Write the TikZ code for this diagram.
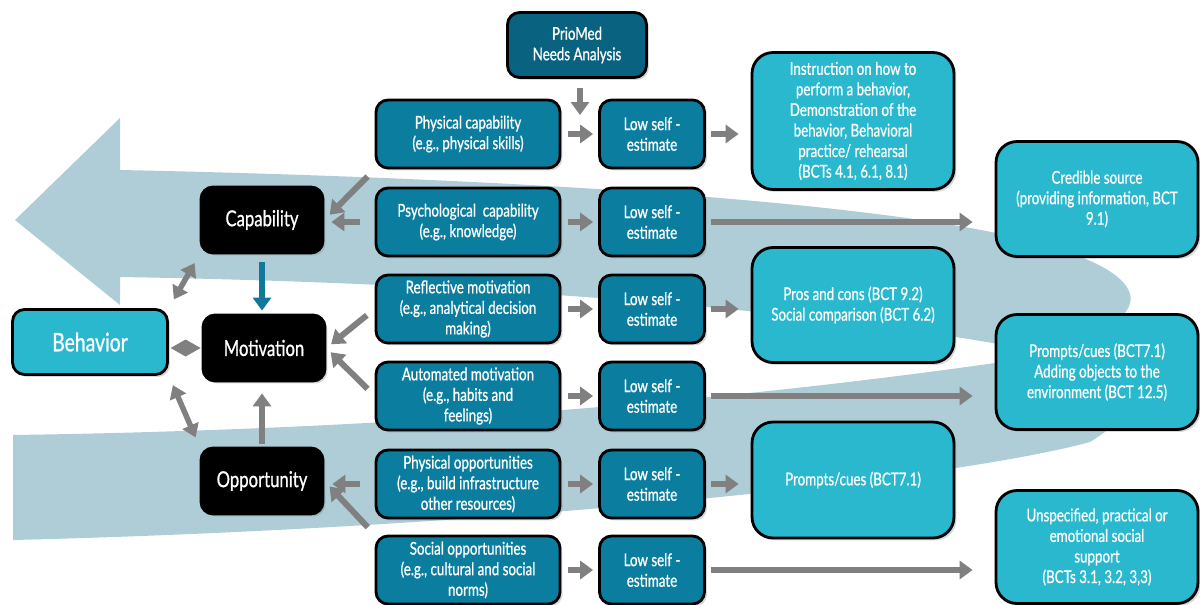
\documentclass[tikz,border=0pt]{standalone}
\usepackage{fontspec}
\setmainfont{Lato}[FakeStretch=0.76, FakeBold=0.8]
\usepackage{tikz}
\usetikzlibrary{positioning,
                arrows.meta,                % arrow tips
                shadows}                    % drop shadows

\definecolor{bandblue}{RGB}{175,205,214}
\definecolor{darkteal}{RGB}{11,126,159}
\definecolor{prioteal}{RGB}{8,98,128}
\definecolor{lightteal}{RGB}{41,184,206}
\definecolor{arrowgray}{RGB}{128,128,128}
\definecolor{capteal}{RGB}{17,120,154}

\begin{document}
\begin{tikzpicture}[x=0.02cm, y=-0.02cm,
    box/.style={draw=black, line width=1.6pt, rounded corners=0.24cm, text=white, align=center,
                inner sep=2pt, font=\fontsize{10}{11.7}\selectfont,
                drop shadow={shadow xshift=0.05cm, shadow yshift=-0.05cm, opacity=0.3}},
    cbox/.style={box, fill=black, minimum width=2.44cm, minimum height=1.32cm, font=\fontsize{12.5}{14}\selectfont},
    srcbox/.style={box, fill=darkteal, minimum width=3.68cm, minimum height=1.36cm},
    lowbox/.style={box, fill=darkteal, minimum width=2.1cm, minimum height=1.36cm},
    bctbox/.style={box, fill=lightteal, rounded corners=0.42cm, minimum width=4.04cm},
    grayarrow/.style={draw=arrowgray, line width=0.12cm, -{Triangle[length=0.26cm, width=0.36cm]}},
    twoway/.style={draw=arrowgray, line width=0.11cm, {Triangle[length=0.26cm, width=0.34cm]}-{Triangle[length=0.26cm, width=0.34cm]},
                   shorten <=0.2cm, shorten >=0.2cm}]
  \useasboundingbox (0,0) rectangle (1200,605);

  % background bands
  \fill[bandblue] (15,220) -- (120,118) -- (120,170)
      .. controls (600,180) and (950,210) .. (1060,250)
      .. controls (1160,280) and (1160,330) .. (1020,348)
      .. controls (900,325) and (600,285) .. (120,277)
      -- (120,305) -- cycle;
  \fill[bandblue] (13,435)
      .. controls (500,428) and (850,385) .. (1050,355)
      .. controls (1150,340) and (1160,400) .. (1090,442)
      .. controls (950,480) and (500,528) .. (13,540) -- cycle;

  % COM-B
  \node[box, fill=lightteal, minimum width=3.1cm, minimum height=1.3cm,
        font=\fontsize{14.5}{16}\selectfont] (beh) at (90,342) {Behavior};
  \node[cbox] (cap) at (262,220) {Capability};
  \node[cbox] (mot) at (264,348) {Motivation};
  \node[cbox] (opp) at (262,481) {Opportunity};

  \node[box, fill=prioteal, minimum width=2.78cm, minimum height=1.3cm] (prio) at (577,45) {PrioMed\\Needs Analysis};

  % sources
  \node[srcbox] (physcap) at (468,134) {Physical capability\\(e.g., physical skills)};
  \node[srcbox] (psychcap) at (468,222) {Psychological\ \ capability\\(e.g., knowledge)};
  \node[srcbox] (reflmot) at (468,309) {Reflective motivation\\(e.g., analytical decision\\making)};
  \node[srcbox] (automot) at (468,396) {Automated motivation\\(e.g., habits and\\feelings)};
  \node[srcbox] (physopp) at (468,484) {Physical opportunities\\(e.g., build infrastructure\\other resources)};
  \node[srcbox] (socopp) at (468,570) {Social opportunities\\(e.g., cultural and social\\norms)};

  \foreach \n/\y in {1/134,2/222,3/309,4/396,5/484,6/570}
    \node[lowbox] (low\n) at (652,\y) {Low self -\\estimate};

  % behaviour change techniques
  \node[bctbox, minimum height=2.74cm] (instr) at (853,121)
       {Instruction on how to\\perform a behavior,\\Demonstration of the\\behavior, Behavioral\\practice/ rehearsal\\(BCTs 4.1, 6.1, 8.1)};
  \node[bctbox, minimum height=2.3cm] (pros) at (853,305) {Pros and cons (BCT 9.2)\\Social comparison (BCT 6.2)};
  \node[bctbox, minimum height=2.32cm] (prompt) at (853,480) {Prompts/cues (BCT7.1)};
  \node[bctbox, minimum height=2.3cm] (cred) at (1097,199) {Credible source\\(providing information, BCT\\9.1)};
  \node[bctbox, minimum height=2.3cm] (adding) at (1097,372) {Prompts/cues (BCT7.1)\\Adding objects to the\\environment (BCT 12.5)};
  \node[bctbox, minimum height=2.26cm] (unspec) at (1097,547) {Unspecified, practical or\\emotional social\\support\\(BCTs 3.1, 3.2, 3,3)};

  % connectors
  \coordinate (prioend) at (580,115);
  \draw[grayarrow, shorten <=0.18cm] (prio.south -| prioend) -- (prioend);

  \foreach \src/\n in {physcap/1,psychcap/2,reflmot/3,automot/4,physopp/5,socopp/6}
    \draw[grayarrow, shorten <=0.14cm, shorten >=0.1cm] (\src) -- (low\n);

  \foreach \n/\bct in {1/instr,3/pros,5/prompt}
    \draw[grayarrow, shorten <=0.1cm, shorten >=0.24cm] (low\n.east) -- (low\n.east -| \bct.west);
  \foreach \n/\bct in {2/cred,4/adding,6/unspec}
    \draw[grayarrow, shorten <=0.1cm, shorten >=0.44cm] (low\n.east) -- (low\n.east -| \bct.west);

  \draw[grayarrow, shorten <=0.2cm, shorten >=0.15cm] (physcap.south west) -- (cap.east);
  \draw[grayarrow, shorten <=0.3cm, shorten >=0.14cm] (psychcap.west) -- (psychcap.west -| cap.east);
  \draw[grayarrow, shorten <=0.2cm, shorten >=0.12cm] (reflmot.west) -- (mot.east);
  \draw[grayarrow, shorten <=0.2cm, shorten >=0.12cm] (automot.west) -- (mot.east);
  \draw[grayarrow, shorten <=0.3cm, shorten >=0.16cm] (physopp.west) -- (physopp.west -| opp.east);
  \draw[grayarrow, shorten <=0.2cm, shorten >=0.15cm] (socopp.north west) -- (opp.east);

  \draw[grayarrow, draw=capteal, shorten <=0.16cm, shorten >=0.06cm] (cap.south) -- (cap.south |- mot.north);
  \draw[grayarrow, shorten <=0.06cm, shorten >=0.22cm] (opp.north) -- (opp.north |- mot.south);

  \draw[twoway] (beh.north east) -- (cap.south west);
  \draw[twoway] (beh.south east) -- (opp.north west);
  \draw[arrowgray, line width=0.02cm, -{Diamond[length=0.6cm, width=0.34cm]},
        shorten <=0.08cm, shorten >=0.02cm] (beh.east |- mot.east) -- (mot.east -| mot.west);
\end{tikzpicture}
\end{document}
